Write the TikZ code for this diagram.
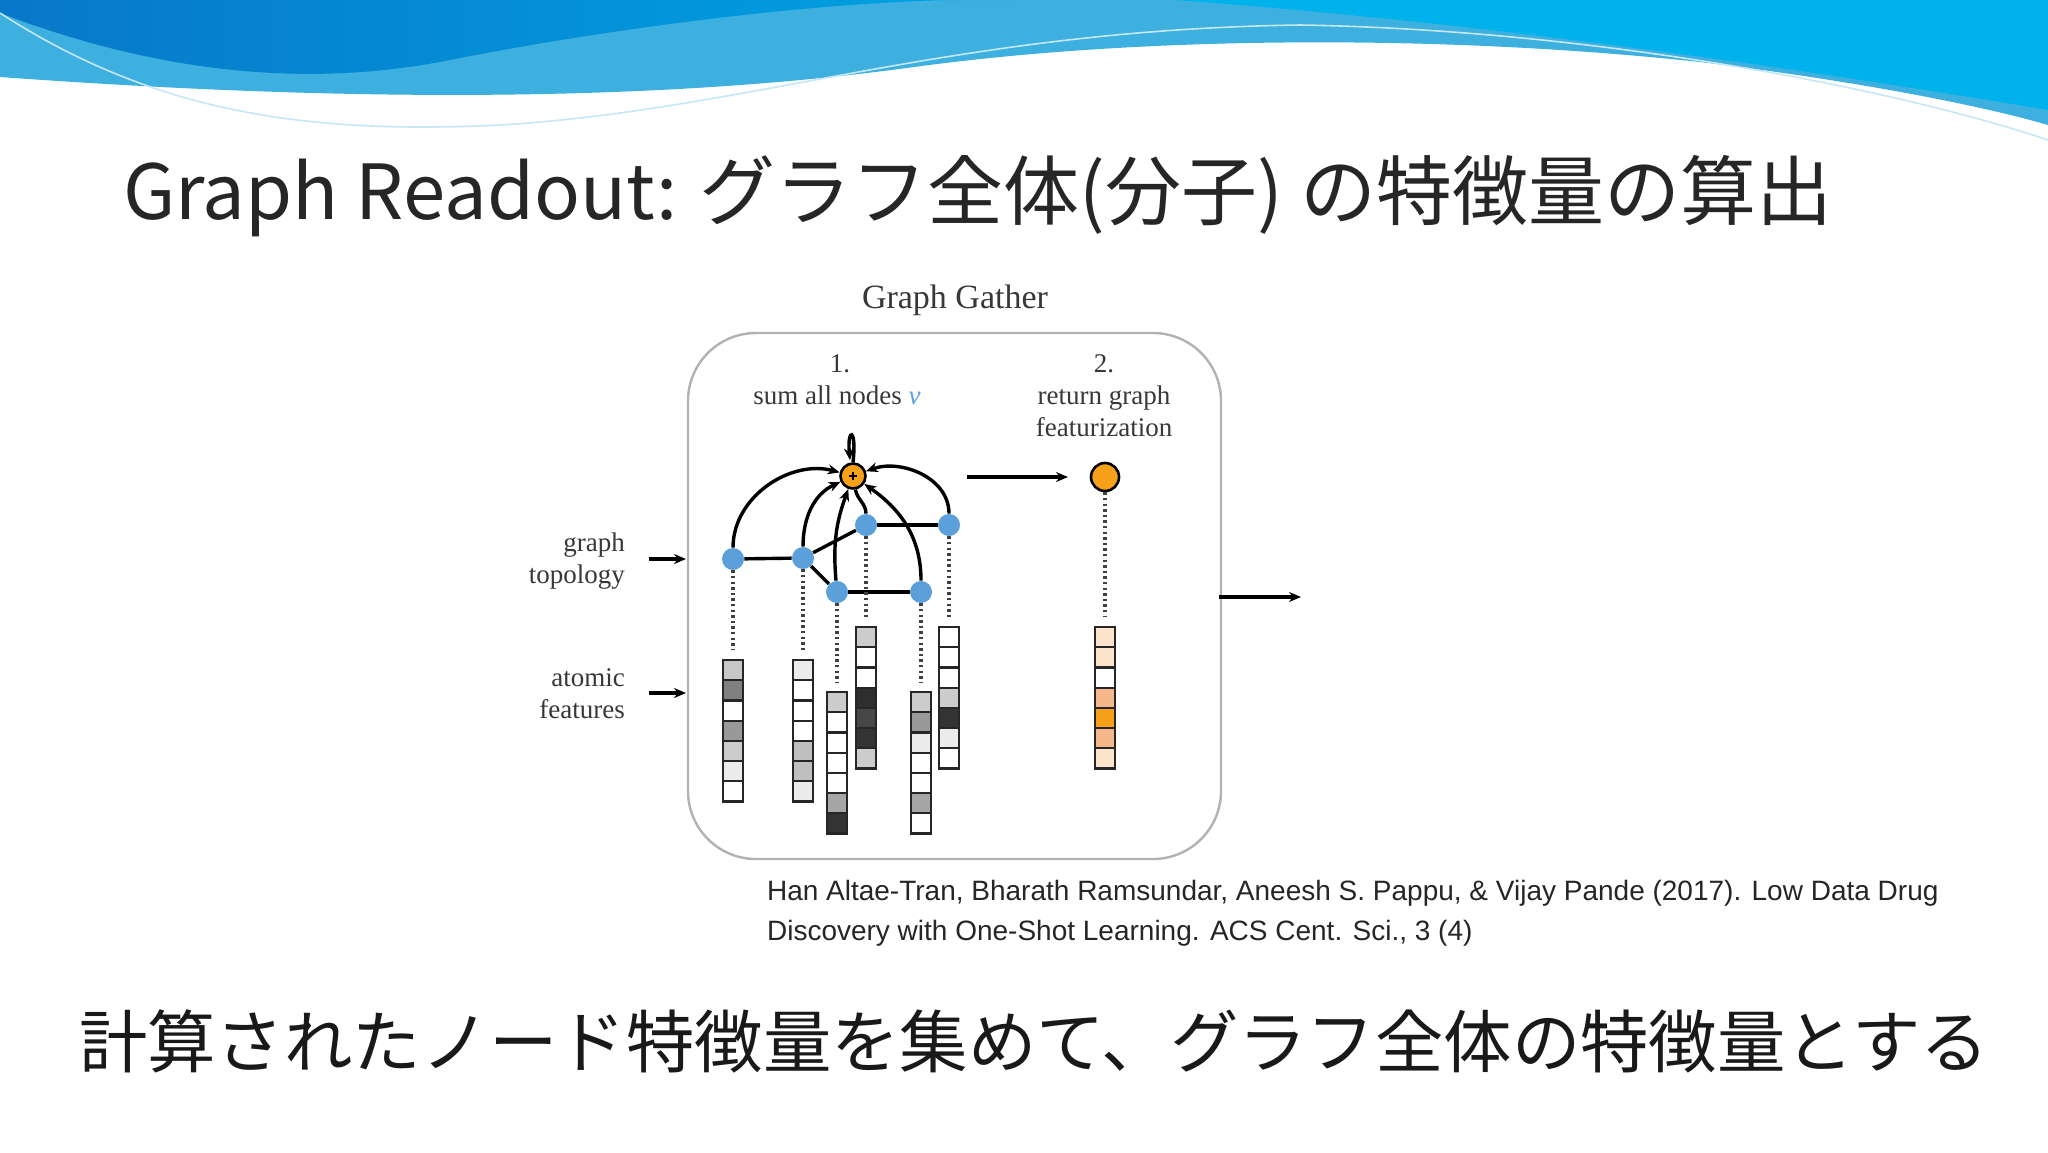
\documentclass[tikz,border=0pt]{standalone}
\usepackage{fontspec}
\setmainfont{Liberation Serif}
\newfontfamily\jpfont{Noto Sans CJK JP}
\newfontfamily\citefont{Liberation Sans}
\usetikzlibrary{arrows.meta,calc}
\definecolor{bnode}{HTML}{5B9FDB}
\definecolor{onode}{HTML}{F7A11A}
\definecolor{lbl}{HTML}{383838}
\definecolor{wavea}{HTML}{3DB0E0}
\definecolor{waved}{HTML}{0878C8}
\definecolor{wavem}{HTML}{00A3E2}
\definecolor{waveb}{HTML}{00B2EC}
\definecolor{o1}{HTML}{FBE3CC}
\definecolor{o2}{HTML}{F5B88A}
\tikzset{
 bn/.style={circle,fill=bnode,inner sep=0,minimum size=11pt},
 edge/.style={line width=1.7pt,black},
 arr/.style={line width=1.7pt,-{Stealth[length=6pt,width=5pt]}},
 dots/.style={line width=1.6pt,dash pattern=on 1.2pt off 1.6pt,black!75},
 lab/.style={font=\fontsize{13.5}{15}\selectfont,text=lbl,align=center},
 cell/.style={draw=black!85,line width=1.1pt},
}
\newcommand{\featvec}[3]{%
 \foreach \cc [count=\ii from 0] in {#3}{%
   \filldraw[cell,fill=\cc] (#1,#2+\ii*20.2) rectangle ++(20,20.2);}}
\begin{document}
\begin{tikzpicture}[x=0.5pt,y=-0.5pt]
\useasboundingbox (0,0) rectangle (2048,1152);
\fill[white] (0,0) rectangle (2048,1152);
% waves
\fill[wavea] (0,0) -- (0,77) .. controls (250,95) and (600,110) .. (914,67) .. controls (1150,35) and (1450,35) .. (1700,62) .. controls (1850,80) and (1980,105) .. (2048,125) -- (2048,0) -- cycle;
\shade[left color=waved,right color=wavem] (0,0) -- (0,13) .. controls (150,70) and (300,90) .. (450,60) .. controls (600,30) and (850,-5) .. (1018,0) -- cycle;
\fill[waveb] (1175,0) .. controls (1450,20) and (1750,60) .. (2048,110) -- (2048,0) -- cycle;
\draw[white!70!wavea,line width=0.8pt] (0,13) .. controls (150,110) and (300,135) .. (500,125) .. controls (750,110) and (950,30) .. (1300,25) .. controls (1600,30) and (1900,90) .. (2048,140);
% title
\node[anchor=west,font=\jpfont\fontsize{38}{42}\selectfont,text=black!85] (title) at (116,196) {Graph Readout: グラフ全体(分子) の特徴量の算出};
% container
\draw[black!30,line width=1.2pt,rounded corners=34pt] (688,333) rectangle (1221,859);
\node[font=\fontsize{17}{19}\selectfont,text=lbl] (gg) at (955,300) {Graph Gather};
\node[lab,anchor=base] (s1) at (840,372) {1.};
\node[lab,anchor=base] (s1b) at (837,404) {sum all nodes {\itshape\color{bnode}v}};
\node[lab,anchor=base] (s2) at (1104,372) {2.};
\node[lab,anchor=base] (s2b) at (1104,404) {return graph};
\node[lab,anchor=base] (s2c) at (1104,436) {featurization};
\node[lab,anchor=base east,align=right] (gt1) at (632,551) {graph};
\node[lab,anchor=base east,align=right] (gt2) at (632,583) {topology};
\node[lab,anchor=base east,align=right] (af1) at (632,686) {atomic};
\node[lab,anchor=base east,align=right] (af2) at (632,718) {features};
\coordinate (ga1) at (649,559); \coordinate (ga2) at (686,559);
\coordinate (fa1) at (649,693); \coordinate (fa2) at (686,693);
\coordinate (oa1) at (1219,597); \coordinate (oa2) at (1301,597);
\draw[arr] (ga1) -- (ga2);
\draw[arr] (fa1) -- (fa2);
\draw[arr] (oa1) -- (oa2);
% graph nodes
\node[bn] (A) at (733,559) {};
\node[bn] (B) at (803,558) {};
\node[bn] (C) at (866,525) {};
\node[bn] (D) at (949,525) {};
\node[bn] (E) at (837,592) {};
\node[bn] (F) at (921,592) {};
\node[circle,draw=black,line width=1.3pt,fill=onode,inner sep=0,minimum size=12.5pt] (S) at (853,476) {};
\draw[line width=0.8pt] ($(S)+(-4,0)$) -- ($(S)+(4,0)$) ($(S)+(0,-4)$) -- ($(S)+(0,4)$);
\node[circle,draw=black,line width=1.3pt,fill=onode,inner sep=0,minimum size=14pt] (O) at (1105,477) {};
\coordinate (sa1) at (967,477); \coordinate (sa2) at (1068,477);
\draw[arr] (sa1) -- (sa2);
\draw[edge] (A) -- (B);
\draw[edge] (B) -- (C);
\draw[edge] (B) -- (E);
\draw[edge] (C) -- (D);
\draw[edge] (E) -- (F);
\draw[arr] (A) to[out=90,in=165] (S);
\draw[arr] (B) to[out=90,in=205] (S);
\draw[arr] (E) to[out=95,in=250] (S);
\draw[edge] (C) to[out=90,in=-80] (S);
\draw[arr] (S.north) .. controls ($(S.north)+(4,-35)$) and ($(S.north)+(-6,-35)$) .. ($(S.north)+(-3,-2)$);
\draw[arr] (D) to[out=90,in=20] (S);
\draw[arr] (F) to[out=90,in=-35] (S);
% dotted links
\coordinate (Av) at (733,650); \coordinate (Bv) at (803,650);
\coordinate (Ev) at (837,682); \coordinate (Cv) at (866,617);
\coordinate (Fv) at (921,682); \coordinate (Dv) at (949,617);
\coordinate (Ov) at (1105,617);
\draw[dots] (A) -- (Av); \draw[dots] (B) -- (Bv); \draw[dots] (E) -- (Ev);
\draw[dots] (C) -- (Cv); \draw[dots] (F) -- (Fv); \draw[dots] (D) -- (Dv);
\draw[dots] (O) -- (Ov);
% feature vectors
\featvec{723}{660}{black!22,black!50,white,black!40,black!20,black!8,white}
\featvec{793}{660}{black!8,white,white,white,black!25,black!25,black!8}
\featvec{827}{692}{black!20,white,white,white,white,black!35,black!80}
\featvec{856}{627}{black!20,white,white,black!82,black!72,black!80,black!20}
\featvec{911}{692}{black!20,black!40,black!8,white,white,black!35,white}
\featvec{939}{627}{white,white,white,black!20,black!80,black!8,white}
\featvec{1095}{627}{o1,o1,white,o2,onode,o2,o1}
% citation
\node[anchor=base west,font=\citefont\fontsize{14}{20}\selectfont,text=black!85] (c1) at (760,900) {Han Altae-Tran, Bharath Ramsundar, Aneesh S. Pappu, \& Vijay Pande (2017). Low Data Drug};
\node[anchor=base west,font=\citefont\fontsize{14}{20}\selectfont,text=black!85] (c2) at (760,940) {Discovery with One-Shot Learning. ACS Cent. Sci., 3 (4)};
% bottom text
\node[anchor=west,font=\jpfont\fontsize{34.2}{40}\selectfont,text=black!90] (bt) at (72,1041) {計算されたノード特徴量を集めて、グラフ全体の特徴量とする};
\end{tikzpicture}
\end{document}
